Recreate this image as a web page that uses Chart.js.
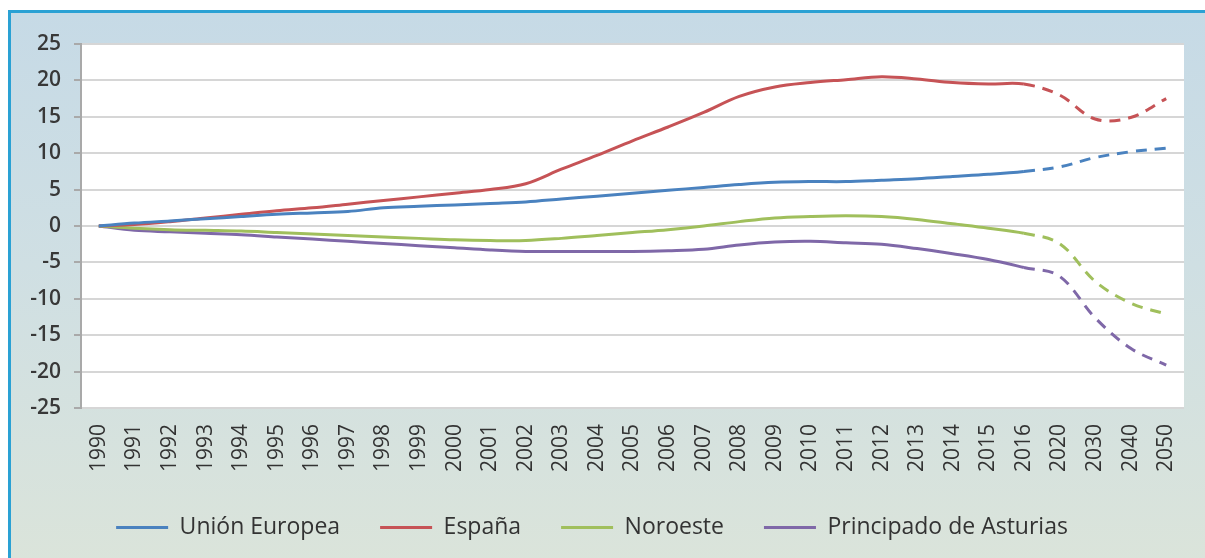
<!DOCTYPE html>
<html>
<head>
<meta charset="utf-8">
<script src="https://cdn.jsdelivr.net/npm/chart.js@4"></script>
<style>
  body { margin: 0; background: #fff; overflow: hidden; }
  #frame {
    position: absolute; left: 8px; top: 10px; width: 1210px; height: 560px;
    border-left: 3px solid #2aa1d4; border-top: 3px solid #2aa1d4;
    background: linear-gradient(to bottom, #c6dae6 0%, #cfdfe3 45%, #dbe4da 100%);
  }
  #chart { position: absolute; left: 0; top: 0; }
</style>
</head>
<body>
<div id="frame"></div>
<canvas id="chart" width="1205" height="558"></canvas>
<script>
const years = ['1990','1991','1992','1993','1994','1995','1996','1997','1998','1999',
  '2000','2001','2002','2003','2004','2005','2006','2007','2008','2009','2010',
  '2011','2012','2013','2014','2015','2016','2020','2030','2040','2050'];

const unionEuropea = [0, 0.4, 0.7, 1.0, 1.3, 1.6, 1.8, 2.0, 2.5, 2.7, 2.9, 3.1, 3.3, 3.7, 4.1,
  4.5, 4.9, 5.3, 5.7, 6.0, 6.1, 6.1, 6.3, 6.5, 6.8, 7.1, 7.5, 8.1, 9.4, 10.2, 10.7];
const espana = [0, 0.2, 0.6, 1.1, 1.6, 2.1, 2.5, 3.0, 3.5, 4.0, 4.5, 5.0, 5.8, 7.8, 9.7,
  11.7, 13.6, 15.6, 17.8, 19.1, 19.7, 20.1, 20.5, 20.2, 19.7, 19.5, 19.5, 18.0, 14.7, 14.9, 17.5];
const noroeste = [0, -0.3, -0.5, -0.6, -0.7, -0.9, -1.1, -1.3, -1.5, -1.7, -1.9, -2.0, -2.0, -1.7, -1.3,
  -0.9, -0.5, 0.0, 0.6, 1.1, 1.3, 1.4, 1.3, 0.9, 0.3, -0.3, -1.0, -2.4, -7.6, -10.6, -12.1];
const asturias = [0, -0.6, -0.8, -1.0, -1.2, -1.5, -1.8, -2.1, -2.4, -2.7, -3.0, -3.3, -3.5, -3.5, -3.5,
  -3.5, -3.4, -3.2, -2.6, -2.2, -2.1, -2.3, -2.5, -3.1, -3.8, -4.6, -5.7, -6.9, -12.6, -16.8, -19.1];

// projections start after 2016
const projStart = years.indexOf('2016');

function make_dataset(label, data, color) {
  return {
    label: label,
    data: data,
    borderColor: color,
    backgroundColor: color,
    borderWidth: 3,
    pointRadius: 0,
    tension: 0.35,
    segment: {
      borderDash: ctx => ctx.p0DataIndex >= projStart ? [11, 8] : undefined
    }
  };
}

const plotBackground = {
  id: 'plotBackground',
  beforeDraw(chart) {
    const {ctx, chartArea} = chart;
    ctx.save();
    ctx.fillStyle = '#ffffff';
    ctx.fillRect(chartArea.left, chartArea.top, chartArea.right - chartArea.left, chartArea.bottom - chartArea.top);
    ctx.restore();
  }
};

new Chart(document.getElementById('chart'), {
  type: 'line',
  data: {
    labels: years,
    datasets: [
      make_dataset('Unión Europea', unionEuropea, '#4a82bf'),
      make_dataset('España', espana, '#c65356'),
      make_dataset('Noroeste', noroeste, '#a0bf5c'),
      make_dataset('Principado de Asturias', asturias, '#7f68a8')
    ]
  },
  options: {
    responsive: false,
    animation: false,
    layout: { padding: { left: 0, right: 21, top: 44, bottom: 9 } },
    plugins: {
      tooltip: { enabled: false },
      legend: {
        position: 'bottom',
        labels: {
          usePointStyle: true,
          pointStyleWidth: 52,
          pointStyle: 'line',
          padding: 40,
          color: '#333333',
          font: { family: 'Open Sans', size: 23 }
        }
      }
    },
    scales: {
      x: {
        offset: true,
        grid: { display: false },
        border: { display: false },
        ticks: {
          minRotation: 90,
          maxRotation: 90,
          autoSkip: false,
          padding: 8,
          color: '#333333',
          font: { family: 'Open Sans', size: 21 }
        },
        afterFit: scale => { scale.height = 68; }
      },
      y: {
        min: -25,
        max: 25,
        ticks: {
          stepSize: 5,
          padding: 13,
          color: '#383838',
          font: { family: 'Open Sans', size: 21, weight: '600' }
        },
        grid: { color: '#d6d6d6', lineWidth: 2, tickColor: '#a9a9a9', tickLength: 7 },
        border: { display: true, color: '#a9a9a9', width: 2 },
        afterFit: scale => { scale.width = 81; }
      }
    }
  },
  plugins: [plotBackground]
});
</script>
</body>
</html>
